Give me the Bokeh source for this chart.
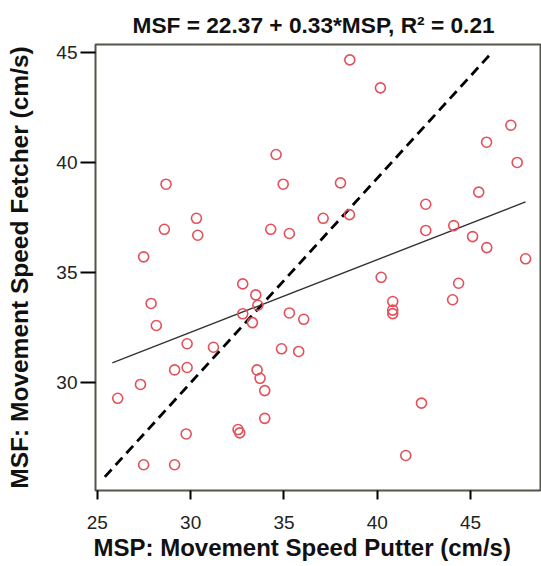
from bokeh.plotting import figure
from bokeh.models import Range1d, FixedTicker, Title
from bokeh.embed import file_html
from bokeh.resources import INLINE

# Data
msp = [34.58, 28.68, 34.96, 30.31, 28.59, 30.38, 34.29, 35.29, 27.48, 37.10,
       38.53, 40.17, 47.16, 45.86, 47.50, 38.03, 45.44, 42.60, 38.51, 42.60,
       44.10, 45.11, 45.87, 47.95, 32.79, 33.49, 27.88, 33.60, 32.79, 35.29,
       36.06, 28.16, 33.31, 29.81, 31.22, 34.87, 35.79, 29.14, 29.81, 33.56,
       33.72, 27.31, 33.97, 26.09, 33.97, 29.76, 32.54, 32.63, 27.48, 29.14,
       40.21, 44.36, 40.83, 40.83, 40.83, 44.04, 42.37, 41.53]
msf = [40.35, 39.00, 39.00, 37.45, 36.95, 36.68, 36.95, 36.76, 35.70, 37.45,
       44.65, 43.38, 41.68, 40.91, 39.99, 39.06, 38.64, 38.09, 37.62, 36.90,
       37.12, 36.62, 36.12, 35.61, 34.47, 33.97, 33.58, 33.50, 33.11, 33.15,
       32.86, 32.58, 32.71, 31.75, 31.59, 31.52, 31.40, 30.56, 30.67, 30.56,
       30.18, 29.90, 29.62, 29.27, 28.36, 27.65, 27.85, 27.70, 26.25, 26.25,
       34.77, 34.50, 33.67, 33.28, 33.12, 33.75, 29.05, 26.67]

intercept = 22.37
slope = 0.33
fit_x = [25.8, 47.95]
fit_y = [intercept + slope * v for v in fit_x]

ref_x = [25.4, 46.0]
ref_y = [25.7, 44.85]

x_ticks = [25, 30, 35, 40, 45]
y_ticks = [30, 35, 40, 45]

title_text = "MSF = 22.37 + 0.33*MSP, R\u00b2 = 0.21"
x_label = "MSP: Movement Speed Putter (cm/s)"
y_label = "MSF: Movement Speed Fetcher (cm/s)"

FONT = "Liberation Sans"

p = figure(width=541, height=566, output_backend="svg", toolbar_location=None,
           x_range=Range1d(24.9, 48.75), y_range=Range1d(25.08, 45.35),
           min_border_left=95, min_border_right=1, min_border_top=44,
           min_border_bottom=76)

p.title = Title(text=title_text, align="left", offset=37, text_font=FONT,
                text_font_size="22.7px", text_font_style="bold",
                text_color="#111111", standoff=14)

p.xgrid.visible = False
p.ygrid.visible = False
p.background_fill_color = "white"
p.border_fill_color = "white"
p.outline_line_color = "#55554a"
p.outline_line_width = 2

for ax in (p.xaxis[0], p.yaxis[0]):
    ax.axis_line_color = None
    ax.major_tick_line_color = "black"
    ax.major_tick_line_width = 2
    ax.major_tick_in = 0
    ax.minor_tick_line_color = None
    ax.major_label_text_font = FONT
    ax.major_label_text_font_size = "19px"
    ax.major_label_text_color = "#222222"
    ax.axis_label_text_font = FONT
    ax.axis_label_text_font_style = "bold"
    ax.axis_label_text_color = "#111111"

p.xaxis.ticker = FixedTicker(ticks=x_ticks)
p.yaxis.ticker = FixedTicker(ticks=y_ticks)
p.xaxis.major_tick_out = 9
p.yaxis.major_tick_out = 15
p.xaxis.major_label_standoff = 16
p.yaxis.major_label_standoff = 3
p.yaxis.axis_label = y_label
p.yaxis.axis_label_text_font_size = "24.5px"
p.yaxis.axis_label_standoff = 20

# x-axis title as a left-aligned title below the axis (as in the reference)
p.add_layout(Title(text=x_label, align="left", offset=-2, text_font=FONT,
                   text_font_size="24px", text_font_style="bold",
                   text_color="#111111", standoff=0), "below")

p.line(ref_x, ref_y, line_color="black", line_width=2.8, line_dash="10 6")
p.line(fit_x, fit_y, line_color="#333333", line_width=1.4)
p.scatter(msp, msf, marker="circle", size=10, fill_color=None,
          line_color="#e4505a", line_width=1.6)

open("out.html", "w").write(file_html(p, INLINE))
